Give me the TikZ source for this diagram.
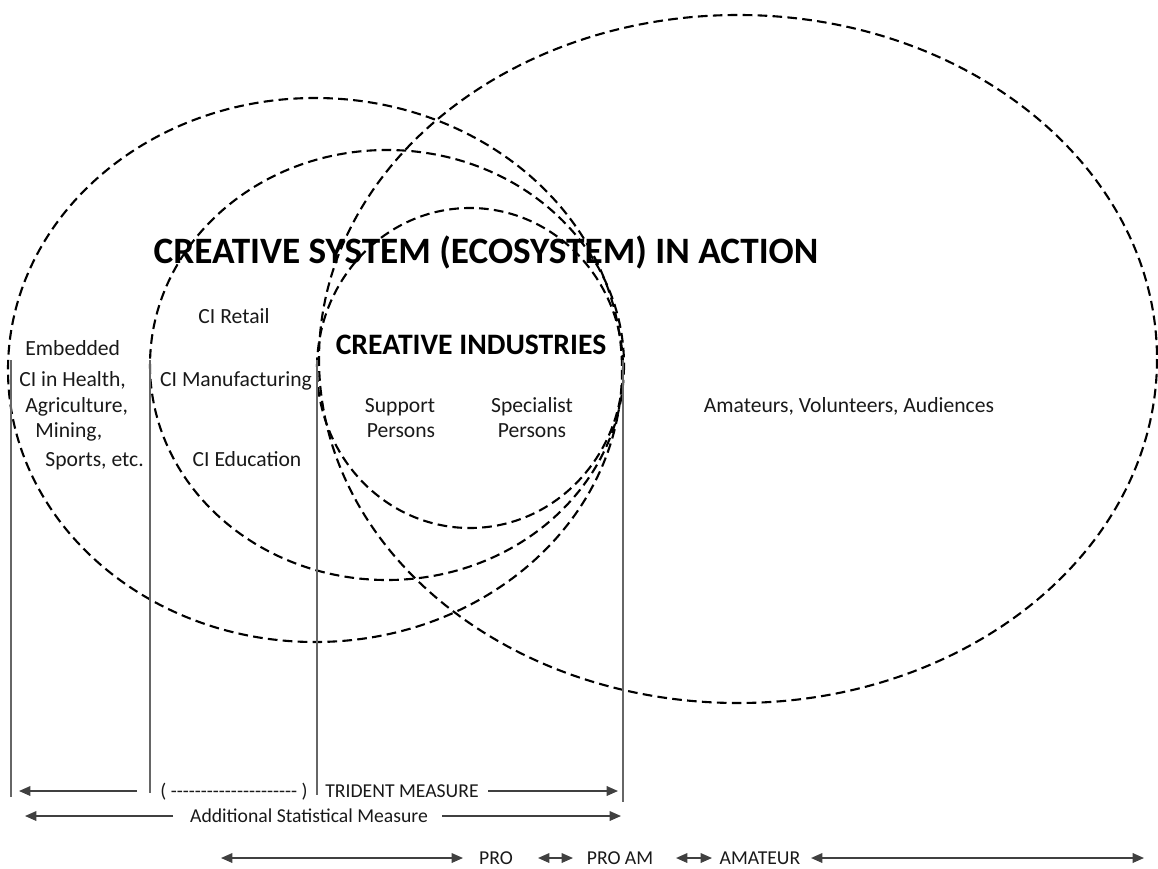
\documentclass[tikz,border=0pt]{standalone}
\usepackage{fontspec}
\setmainfont{Carlito}
\usetikzlibrary{positioning,arrows.meta}

\tikzset{
  field/.style={dash pattern=on 5.5pt off 3pt, line width=1.2pt},
  divider/.style={draw=black!60, line width=0.7pt},
  gauge/.style={draw=black!75, line width=0.9pt},
  heading/.style={font=\bfseries\fontsize{21.2}{24}\selectfont, inner sep=0pt, anchor=base},
  core/.style={font=\bfseries\fontsize{16.9}{19}\selectfont, inner sep=0pt, anchor=base},
  itemtext/.style={font=\fontsize{12.3}{14}\selectfont, text=black!90, inner sep=0pt, anchor=base},
  tag/.style={font=\fontsize{11.2}{13}\selectfont, text=black!90, inner sep=0pt, anchor=base},
}
\newcommand\dashrun[1]{\foreach \k in {1,...,#1}{\mbox{-}}}

\begin{document}
\begin{tikzpicture}[x=0.02cm,y=-0.02cm,>={Triangle[length=6.5pt,width=5.5pt]}]
  \useasboundingbox (0,0) rectangle (1158,868);

  % overlapping fields
  \draw[field] (315,370) ellipse [x radius=307, y radius=272];
  \draw[field] (387,365) ellipse [x radius=237, y radius=215];
  \draw[field] (470,368) ellipse [x radius=153, y radius=160];
  \draw[field] (738,359) ellipse [x radius=419, y radius=344];

  % measuring boundaries
  \draw[divider] (11,360) -- (11,797);
  \draw[divider] (150,360) -- (150,793);
  \draw[divider] (317,360) -- (317,795);
  \draw[divider] (623,360) -- (623,802);

  % texts
  \node[heading] (system) at (486,263) {CREATIVE SYSTEM (ECOSYSTEM) IN ACTION};
  \node[core] (ci) at (471,354) {CREATIVE INDUSTRIES};

  \node[itemtext,anchor=base west] (emb1) at (25,355) {Embedded};
  \node[itemtext,anchor=base west] (emb2) at (19,386) {CI in Health,};
  \node[itemtext,anchor=base west] (emb3) at (25,412) {Agriculture,};
  \node[itemtext,anchor=base west] (emb4) at (35,437) {Mining,};
  \node[itemtext,anchor=base west] (emb5) at (45,466) {Sports, etc.};

  \node[itemtext] (retail) at (234,323) {CI Retail};
  \node[itemtext] (manuf) at (236,386) {CI Manufacturing};
  \node[itemtext] (educ) at (247,466) {CI Education};

  \node[itemtext] (sup1) at (400,412) {Support};
  \node[itemtext] (sup2) at (401,437) {Persons};
  \node[itemtext] (spec1) at (532,412) {Specialist};
  \node[itemtext] (spec2) at (532,437) {Persons};

  \node[itemtext] (amateurs) at (849,412) {Amateurs, Volunteers, Audiences};

  % measures
  \node[tag,anchor=base west] (paren) at (160,797) {( \dashrun{21} )};
  \node[tag,anchor=base west] (trident) at (325,797) {TRIDENT MEASURE};
  \node[tag] (addl) at (309,822) {Additional Statistical Measure};

  \coordinate (tr0) at (19,791);
  \coordinate (tr1) at (137,791);
  \coordinate (tr2) at (488,791);
  \coordinate (tr3) at (618,791);
  \draw[gauge,->] (tr1) -- (tr0);
  \draw[gauge,->] (tr2) -- (tr3);

  \coordinate (ad0) at (25,816);
  \coordinate (ad1) at (173,816);
  \coordinate (ad2) at (442,816);
  \coordinate (ad3) at (621,816);
  \draw[gauge,->] (ad1) -- (ad0);
  \draw[gauge,->] (ad2) -- (ad3);

  % scale of engagement
  \node[tag] (pro) at (496,864) {PRO};
  \node[tag] (proam) at (620,864) {PRO AM};
  \node[tag] (amateur) at (760,864) {AMATEUR};

  \coordinate (sc0) at (221,858);
  \coordinate (sc1) at (463,858);
  \coordinate (sc2) at (538,858);
  \coordinate (sc3) at (573,858);
  \coordinate (sc4) at (676,858);
  \coordinate (sc5) at (712,858);
  \coordinate (sc6) at (811,858);
  \coordinate (sc7) at (1144,858);
  \draw[gauge,<->] (sc0) -- (sc1);
  \draw[gauge,<->] (sc2) -- (sc3);
  \draw[gauge,<->] (sc4) -- (sc5);
  \draw[gauge,<->] (sc6) -- (sc7);
\end{tikzpicture}
\end{document}
